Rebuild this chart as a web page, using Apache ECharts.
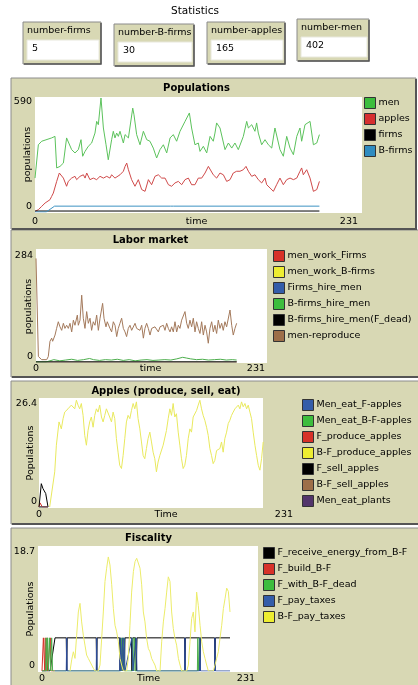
<!DOCTYPE html>
<html>
<head>
<meta charset="utf-8">
<script src="https://cdn.jsdelivr.net/npm/echarts@6/dist/echarts.min.js"></script>
<style>
html,body{margin:0;padding:0;background:#fff}
#chart{width:418px;height:685px}
</style>
</head>
<body>
<div id="chart"></div>
<script>
// ---- monitors ----
var monitorNames = ['number-firms', 'number-B-firms', 'number-apples', 'number-men'];
var monitorValues = [5, 30, 165, 402];

// ---- tick labels (min / max of every plot) ----
var timeTicks = [0, 231];
var popTicks = [0, 590];
var laborTicks = [0, 284];
var applesTicks = [0, 26.4];
var fiscTicks = [0, 18.7];

// ---- Populations ----
var menPts = [[0,174],[2.4,345],[4.8,363],[11.9,380],[14.3,388],[15.5,226],[17.9,234],[20.3,251],[22.6,380],[23.8,380],[26.2,320],[28.6,303],[31,320],[32.9,371],[34.1,286],[35.8,311],[38.1,337],[40.5,354],[42.9,405],[44.1,465],[45.3,448],[47.2,585],[48.9,431],[50.8,345],[52.4,268],[54.8,371],[56,414],[57.2,380],[58.4,405],[59.6,388],[60.8,414],[63.2,354],[64.4,397],[66.8,380],[69.9,533],[70.8,499],[72.7,397],[75.1,345],[77.5,414],[79.9,371],[82.2,363],[84.6,328],[87,277],[89.4,320],[91.8,345],[94.2,303],[96.6,380],[98.9,397],[101.3,363],[103.7,414],[107.3,465],[110.4,508],[112,431],[114.4,345],[116.8,354],[118,311],[120.4,337],[122.8,303],[125.2,388],[127.5,363],[128.7,405],[129.9,457],[132.3,431],[135.9,320],[138.3,354],[140.7,328],[143,354],[145.4,320],[149,388],[151.4,465],[152.6,431],[155,448],[157.3,414],[158.5,457],[159.7,405],[162.1,345],[164.5,371],[166.9,345],[169.3,328],[171.6,431],[175.2,320],[177.6,286],[180,388],[182.4,328],[184.8,294],[187.2,388],[189.5,431],[190.7,363],[193.1,448],[196.7,465],[199.1,345],[201.5,354],[203.4,397]];
var applePts = [[0,3],[2.4,12],[4.8,29],[7.2,46],[8.3,55],[10.7,63],[11.9,80],[13.1,97],[14.3,106],[15.5,157],[17.4,200],[18.6,209],[20.3,174],[22.6,132],[23.8,157],[26.2,174],[28.6,183],[29.8,166],[32.2,183],[34.6,191],[35.8,174],[37,200],[38.1,191],[39.3,166],[41.7,174],[44.1,166],[46.5,183],[48.9,174],[51.3,183],[53.6,174],[54.8,191],[57.2,174],[58.4,166],[60.8,191],[63.2,209],[64.4,234],[65.6,251],[66.8,217],[69.1,166],[71.5,132],[73.9,166],[76.3,115],[78.7,106],[81.1,166],[83.4,140],[85.8,183],[88.2,191],[90.6,174],[93,174],[95.4,140],[97.7,132],[100.1,149],[102.5,157],[104.9,140],[107.3,166],[109.7,174],[112,140],[114.4,140],[116.8,174],[119.2,174],[121.6,200],[124,234],[125.2,243],[127.5,191],[129.9,174],[132.3,200],[134.7,191],[137.1,157],[139.5,166],[141.8,200],[144.2,209],[146.6,209],[149,217],[150.9,234],[152.6,209],[155,183],[157.3,191],[159.7,166],[162.1,149],[164.5,174],[165.7,140],[168.1,123],[170.5,106],[172.8,140],[175.2,174],[177.6,140],[180,166],[182.4,174],[184.8,166],[187.2,174],[189.5,209],[190.7,226],[191.9,191],[194.3,217],[196.7,174],[199.1,106],[201.5,115],[203.4,157]];
var firmPts = [[0,5],[203.4,5]];
var bfirmPts = [[0,0],[8,0],[14,30],[97,30],[98,22],[99,30],[203.4,30]];

// ---- Labor market ----
var workFirmsPts = [[0,0],[202.4,0]];
var workBFirmsPts = [[0,0],[202.4,0]];
var firmsHirePts = [[0,0],[202.4,0]];
var bfirmsHirePts = [[0,0],[10,0],[12,4],[18,6],[24,3],[30,5],[36,7],[42,4],[48,6],[54,9],[58,6],[64,4],[70,6],[76,5],[82,7],[88,4],[94,6],[100,3],[106,5],[112,6],[118,4],[124,5],[130,6],[136,5],[142,8],[148,12],[152,10],[156,8],[162,6],[168,7],[174,5],[180,6],[186,7],[192,5],[198,6],[202.4,5]];
var bfirmsHireDeadPts = [[0,0],[202.4,0]];
var reproducePts = [[0,265],[2.4,14],[5.7,6],[10.8,6],[12.4,14],[14.1,53],[15.8,61],[16.8,53],[19.2,69],[20.8,86],[22.5,103],[24.2,90],[25.9,81],[27.6,99],[29.2,86],[30.9,94],[32.6,86],[34.3,99],[36,77],[37.7,107],[39.3,94],[41.7,120],[42.7,94],[44.4,107],[46.1,171],[47.7,112],[49.4,86],[51.1,129],[52.8,99],[54.5,112],[56.1,81],[57.8,103],[59.5,94],[61.2,120],[62.9,81],[64.6,112],[67.2,150],[68.6,112],[70.6,90],[71.9,103],[74.6,86],[76.3,77],[78,103],[79.7,94],[81.4,65],[83,86],[84.7,99],[86.4,112],[88.1,86],[89.8,77],[91.4,65],[93.1,86],[94.8,94],[96.5,81],[98.2,77],[99.9,99],[101.5,86],[103.2,90],[104.9,81],[106.6,94],[108.3,61],[109.9,86],[111.6,99],[113.3,86],[115,69],[116.7,86],[118.3,81],[120,90],[121.7,86],[123.4,77],[125.1,90],[126.7,86],[128.4,94],[130.1,81],[131.8,99],[133.5,86],[135.2,77],[136.8,90],[138.5,77],[140.2,103],[141.9,77],[143.6,94],[145.2,86],[146.9,107],[148.6,112],[150.3,129],[152,99],[153.6,86],[155.3,107],[157,90],[158.7,112],[160.4,77],[162,103],[163.7,86],[165.4,73],[167.1,103],[168.8,69],[170.5,94],[172.1,77],[173.8,48],[175.5,86],[177.2,103],[178.9,77],[180.5,94],[182.2,73],[183.9,107],[185.6,86],[187.3,99],[188.9,81],[190.6,103],[192.3,90],[194,86],[195.7,133],[197.4,94],[199,69],[200.7,86],[202.4,99]];

// ---- Apples (produce, sell, eat) ----
var eatFApplesPts = [[0,0],[8.2,0]];
var eatBFApplesPts = [[0,0],[8.2,0]];
var fProducePts = [[0,0],[1,1],[2,1.2],[3,0],[8.2,0]];
var bfProducePts = [[9.7,0],[11.2,0.4],[14.3,8.6],[15.8,15.1],[18.2,20.8],[20.3,19.1],[21.9,21.6],[23.4,23.2],[24.9,22.8],[26.4,24.0],[27.9,23.6],[29.4,24.9],[31.0,25.3],[32.5,24.0],[34.0,26.1],[35.5,24.9],[37.0,24.0],[38.5,25.3],[40.1,22.4],[41.6,17.5],[43.1,15.1],[44.6,18.7],[46.1,20.8],[47.6,22.0],[49.2,19.5],[50.7,22.4],[52.2,24.0],[53.7,23.2],[55.2,24.9],[56.8,22.0],[58.3,20.8],[59.8,22.4],[61.3,24.0],[64.3,22.0],[65.9,20.8],[67.4,23.2],[68.9,21.6],[70.4,16.7],[71.9,13.4],[73.4,10.2],[75.0,9.4],[76.5,12.6],[78.0,16.7],[79.5,20.8],[81.0,22.4],[82.6,21.6],[84.1,23.6],[85.6,25.3],[87.1,24.0],[88.6,25.7],[90.1,21.6],[91.7,19.1],[93.2,15.9],[94.7,12.6],[96.2,11.8],[97.7,14.3],[99.2,16.7],[100.8,18.3],[102.3,15.9],[103.8,13.4],[105.3,11.8],[106.8,8.6],[108.3,11.0],[109.9,12.6],[112.9,15.1],[115.9,18.7],[117.5,21.6],[119.0,24.0],[120.5,22.4],[122.0,25.3],[123.5,22.0],[125.0,22.8],[126.6,18.3],[128.1,15.1],[129.6,11.8],[131.1,9.4],[132.6,10.2],[134.1,12.6],[135.7,16.7],[137.2,19.1],[138.7,18.3],[140.2,22.0],[141.7,22.4],[143.3,23.6],[144.8,24.9],[146.3,26.1],[147.8,24.0],[149.3,22.4],[150.8,21.2],[152.4,19.5],[153.9,17.5],[155.4,14.3],[156.9,12.6],[158.4,10.6],[159.9,11.4],[161.5,13.8],[163.0,13.4],[164.5,14.3],[166.0,15.9],[167.5,13.4],[169.0,16.7],[170.6,18.3],[172.1,20.4],[173.6,21.2],[175.1,22.4],[176.6,23.2],[178.2,24.0],[179.7,23.6],[181.2,24.9],[182.7,24.0],[184.2,25.7],[185.7,24.5],[187.3,25.3],[188.8,24.0],[190.3,24.9],[191.8,23.2],[193.3,21.6],[194.8,18.3],[196.4,15.1],[197.9,12.6],[199.4,10.2],[200.9,9.0],[202.4,11.8],[203.9,15.9]];
var fSellPts = [[0,0],[0.6,0],[2.1,5.7],[3.6,4.5],[5.2,4.9],[6.1,3.3],[8.2,0]];
var bfSellPts = [[0,0],[8.2,0]];
var eatPlantsPts = [[0,0],[8.2,0]];

// ---- Fiscality ----
var receiveEnergyPts = [[0,0],[8.7,0],[14.1,5],[26.3,5],[26.8,0],[27.3,5],[58.8,5],[59.3,0],[59.8,5],[84.2,5],[84.7,0],[85.5,5],[86.8,5],[87.3,0],[88,5],[89.3,0],[90,5],[97,5],[97.5,0],[98.5,5],[101.5,5],[102.2,0],[103,5],[154.6,5],[155.1,0],[155.6,5],[170.9,5],[171.4,0],[171.9,5],[187.1,5],[187.6,0],[188.1,5],[203.9,5]];
var buildBFPts = [[0,0],[1.5,5],[2.5,5],[3,0],[3.5,5],[4,0],[5.5,5],[6,0],[8,0],[9,5],[9.5,0],[14,0]];
var withBFDeadPts = [[0,0],[4,0],[4.5,5],[5,0],[6,5],[7,0],[8,5],[9.5,0],[10.5,5],[11.5,0],[14,0],[85.5,0],[86,5],[86.5,0],[88.5,0],[89,5],[89.5,0],[98,0],[98.5,5],[99.5,0],[100.5,5],[101,0],[168.5,0],[169,5],[169.5,0],[170.5,0],[171,5],[171.5,0]];
var payTaxesPts = [[14.1,0],[26.3,0],[26.8,5],[27.3,0],[58.8,0],[59.3,5],[59.8,0],[84.2,0],[84.7,5],[85.5,0],[87.3,5],[88,0],[89.3,5],[90,0],[97.5,5],[98.5,0],[102.2,5],[103,0],[154.6,0],[155.1,5],[155.6,0],[170.9,0],[171.4,5],[171.9,0],[187.1,0],[187.6,5],[188.1,0],[203.9,0]];
var bfPayTaxesPts = [[30.4,0],[32.2,1.7],[34.0,2.9],[35.8,1.9],[37.6,5.4],[39.4,8.9],[41.2,10.2],[43.0,7.4],[44.8,5.4],[46.6,3.9],[48.4,2.4],[50.2,1.9],[52.1,2.2],[53.9,0.9],[55.7,0.4],[57.5,0],[61,0],[62.9,0.9],[64.7,4.9],[66.5,8.9],[68.3,13.5],[70.1,15.5],[71.9,17.2],[73.7,16.0],[75.6,13.0],[77.4,9.4],[79.2,6.9],[81.0,5.9],[82.8,4.4],[84.6,1.9],[86.4,0.9],[88.2,0],[91.8,0],[93.6,1.9],[95.4,6.9],[97.2,11.9],[99.1,15.0],[100.9,16.5],[102.7,17.0],[104.5,17.2],[106.3,15.5],[108.1,13.0],[109.9,8.9],[111.7,7.4],[113.5,4.9],[115.3,3.4],[117.1,2.9],[118.9,1.9],[120.7,1.4],[122.5,0.9],[124.4,0],[128.0,0],[129.8,4.4],[131.6,7.4],[133.4,9.4],[135.2,11.9],[137.0,14.2],[138.8,13.5],[140.6,8.9],[142.4,6.4],[144.2,4.9],[146.0,3.9],[147.9,1.9],[149.7,0.9],[151.5,0],[156.9,0],[158.7,0.9],[160.5,4.4],[162.3,7.9],[164.1,8.9],[165.9,5.9],[167.7,11.9],[169.5,9.9],[171.4,6.9],[173.2,4.4],[175.0,2.9],[176.8,1.9],[178.6,0.9],[180.4,0],[185.8,0],[187.6,0.9],[189.4,1.9],[191.2,2.9],[193.0,4.9],[194.9,6.9],[196.7,9.4],[198.5,10.9],[200.3,12.5],[202.1,12.0],[203.9,8.9]];

var FONT = 'DejaVu Sans';
var TAN = '#d8d8b4';

var panels = [
  { title: 'Populations', yName: 'populations', xName: 'time', yTicks: popTicks,
    frame: [11, 78, 405, 151], white: [35, 97, 327, 116],
    grid: { left: 35, top: 97, width: 323, height: 115 }, xMargin: 5, yMargin: 3, yNameGap: 2,
    legend: [364, 97],
    series: [
      { name: 'men', line: '#5cc25c', box: '#3dbd3d', data: menPts },
      { name: 'apples', line: '#cf4a4a', box: '#d63030', data: applePts },
      { name: 'firms', line: '#000', box: '#000', data: firmPts },
      { name: 'B-firms', line: '#3d93c2', box: '#2f8cc0', data: bfirmPts }
    ] },
  { title: 'Labor market', yName: 'populations', xName: 'time', yTicks: laborTicks,
    frame: [11, 230, 420, 147], white: [36, 249, 231, 114],
    grid: { left: 36, top: 251, width: 229, height: 111 }, xMargin: 2, yMargin: 3, yNameGap: 2,
    legend: [273, 250],
    series: [
      { name: 'men_work_Firms', line: '#d73229', box: '#d73229', data: workFirmsPts },
      { name: 'men_work_B-firms', line: '#eded31', box: '#eded31', data: workBFirmsPts },
      { name: 'Firms_hire_men', line: '#345da9', box: '#345da9', data: firmsHirePts },
      { name: 'B-firms_hire_men', line: '#4cae4c', box: '#3dbd3d', data: bfirmsHirePts },
      { name: 'B-firms_hire_men(F_dead)', line: '#000', box: '#000', data: bfirmsHireDeadPts },
      { name: 'men-reproduce', line: '#a47a5c', box: '#9d6e48', data: reproducePts }
    ] },
  { title: 'Apples (produce, sell, eat)', yName: 'Populations', xName: 'Time', yTicks: applesTicks,
    frame: [11, 381, 420, 143], white: [39, 398, 224, 110],
    grid: { left: 39, top: 399, width: 254, height: 108 }, xMargin: 3, yMargin: 2, yNameGap: 3,
    legend: [302, 399],
    series: [
      { name: 'Men_eat_F-apples', line: '#345da9', box: '#345da9', data: eatFApplesPts },
      { name: 'Men_eat_B-F-apples', line: '#3dbd3d', box: '#3dbd3d', data: eatBFApplesPts },
      { name: 'F_produce_apples', line: '#d73229', box: '#d73229', data: fProducePts },
      { name: 'B-F_produce_apples', line: '#e9e95e', box: '#eded31', data: bfProducePts },
      { name: 'F_sell_apples', line: '#000', box: '#000', data: fSellPts },
      { name: 'B-F_sell_apples', line: '#9d6e48', box: '#9d6e48', data: bfSellPts },
      { name: 'Men_eat_plants', line: '#52356b', box: '#52356b', data: eatPlantsPts }
    ] },
  { title: 'Fiscality', yName: 'Populations', xName: 'Time', yTicks: fiscTicks,
    frame: [11, 528, 420, 170], white: [38, 546, 220, 126],
    grid: { left: 42, top: 547, width: 213, height: 124 }, xMargin: 3, yMargin: 7, yNameGap: 6,
    legend: [263, 547],
    series: [
      { name: 'F_receive_energy_from_B-F', line: '#000', box: '#000', data: receiveEnergyPts },
      { name: 'F_build_B-F', line: '#d73229', box: '#d73229', data: buildBFPts },
      { name: 'F_with_B-F_dead', line: '#4cae4c', box: '#3dbd3d', data: withBFDeadPts },
      { name: 'F_pay_taxes', line: '#2f4f9e', box: '#345da9', data: payTaxesPts },
      { name: 'B-F_pay_taxes', line: '#ecec6a', box: '#eded31', data: bfPayTaxesPts }
    ] }
];

var grids = [], xAxes = [], yAxes = [], legends = [], series = [], graphics = [];

// "Statistics" header and monitors
var monitorBoxes = [[23, 22, 78, 42], [114, 24, 80, 42], [207, 22, 78, 42], [297, 19, 72, 42]];
graphics.push({ type: 'text', left: 171, top: 6, z: 5,
  style: { text: 'Statistics', font: '10.5px ' + FONT, fill: '#000' } });
monitorNames.forEach(function (name, i) {
  var b = monitorBoxes[i];
  graphics.push({ type: 'rect', z: 1, shape: { x: b[0], y: b[1], width: b[2], height: b[3] },
    style: { fill: TAN, stroke: '#8a8a8a', lineWidth: 1 } });
  graphics.push({ type: 'polyline', z: 2, shape: { points: [[b[0] + 1, b[1] + b[3]], [b[0] + b[2], b[1] + b[3]], [b[0] + b[2], b[1] + 1]] },
    style: { stroke: '#555', lineWidth: 1.5, fill: null } });
  graphics.push({ type: 'rect', z: 2, shape: { x: b[0] + 4, y: b[1] + 18, width: b[2] - 6, height: 20 },
    style: { fill: '#fff', stroke: '#e8e8dc', lineWidth: 1 } });
  graphics.push({ type: 'text', z: 3, left: b[0] + 4, top: b[1] + 4,
    style: { text: name, font: '9.5px ' + FONT, fill: '#000' } });
  graphics.push({ type: 'text', z: 3, left: b[0] + 9, top: b[1] + 22,
    style: { text: String(monitorValues[i]), font: '9.5px ' + FONT, fill: '#000' } });
});

panels.forEach(function (p, k) {
  var f = p.frame, w = p.white, g = p.grid;
  graphics.push({ type: 'rect', z: -3, shape: { x: f[0], y: f[1], width: f[2], height: f[3] },
    style: { fill: TAN, stroke: '#8c8c8c', lineWidth: 1 } });
  graphics.push({ type: 'polyline', z: -2, shape: { points: [[f[0] + 1, f[1] + f[3]], [f[0] + f[2], f[1] + f[3]], [f[0] + f[2], f[1] + 1]] },
    style: { stroke: '#555', lineWidth: 2, fill: null } });
  graphics.push({ type: 'rect', z: -1, shape: { x: w[0], y: w[1], width: w[2], height: w[3] },
    style: { fill: '#fff' } });
  graphics.push({ type: 'text', z: 5, x: g.left + g.width / 2, y: f[1] + 5,
    style: { text: p.title, font: 'bold 10px ' + FONT, fill: '#000', textAlign: 'center', textVerticalAlign: 'top' } });

  grids.push({ left: g.left, top: g.top, width: g.width, height: g.height,
    containLabel: false, outerBoundsMode: 'none' });
  xAxes.push({
    gridIndex: k, type: 'value', min: timeTicks[0], max: timeTicks[1], interval: timeTicks[1] - timeTicks[0],
    axisLine: { show: false }, axisTick: { show: false }, splitLine: { show: false },
    axisLabel: { fontFamily: FONT, fontSize: 9.5, color: '#000', margin: p.xMargin,
      alignMaxLabel: 'right' },
    name: p.xName, nameLocation: 'middle', nameGap: p.xMargin, nameMoveOverlap: false,
    nameTextStyle: { fontFamily: FONT, fontSize: 9.5, color: '#000', verticalAlign: 'top' }
  });
  yAxes.push({
    gridIndex: k, type: 'value', min: p.yTicks[0], max: p.yTicks[1], interval: p.yTicks[1] - p.yTicks[0],
    axisLine: { show: false }, axisTick: { show: false }, splitLine: { show: false },
    axisLabel: { fontFamily: FONT, fontSize: 9.5, color: '#000', margin: p.yMargin,
      verticalAlignMinLabel: 'bottom', verticalAlignMaxLabel: 'top' },
    name: p.yName, nameLocation: 'middle', nameGap: p.yNameGap, nameMoveOverlap: false,
    nameTextStyle: { fontFamily: FONT, fontSize: 9.5, color: '#000' }
  });
  legends.push({
    left: p.legend[0], top: p.legend[1], orient: 'vertical', itemGap: 4,
    itemWidth: 11, itemHeight: 11, icon: 'rect', padding: 0,
    selectedMode: false,
    textStyle: { fontFamily: FONT, fontSize: 9.5, color: '#000', padding: [0, 0, 0, -2] },
    itemStyle: { borderColor: '#333', borderWidth: 1 },
    data: p.series.map(function (s) { return { name: s.name, itemStyle: { color: s.box, borderColor: '#333', borderWidth: 1 } }; })
  });
  p.series.forEach(function (s) {
    series.push({
      name: s.name, type: 'line', xAxisIndex: k, yAxisIndex: k,
      data: s.data, showSymbol: false, symbol: 'none',
      lineStyle: { color: s.line, width: 1 }, itemStyle: { color: s.line },
      emphasis: { disabled: true }, silent: true
    });
  });
});

var chart = echarts.init(document.getElementById('chart'));
chart.setOption({
  animation: false,
  backgroundColor: '#fff',
  grid: grids,
  xAxis: xAxes,
  yAxis: yAxes,
  legend: legends,
  graphic: { elements: graphics },
  series: series
});
</script>
</body>
</html>
